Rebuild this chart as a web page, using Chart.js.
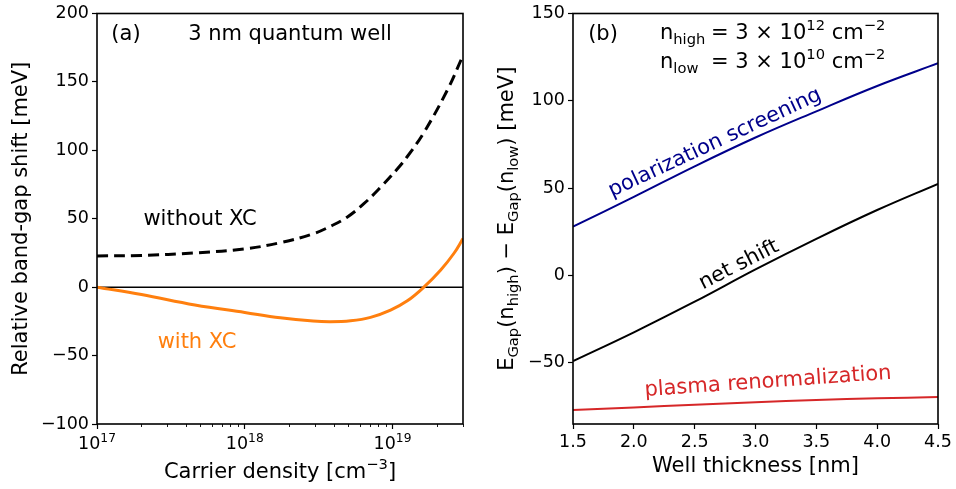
<!DOCTYPE html>
<html>
<head>
<meta charset="utf-8">
<script src="https://cdn.jsdelivr.net/npm/chart.js@4.4.1/dist/chart.umd.min.js"></script>
<style>
  body { margin: 0; background: #fff; width: 956px; height: 489px; overflow: hidden; position: relative; }
  .box { position: absolute; top: 0; height: 489px; }
</style>
</head>
<body>
<div class="box" style="left:0;width:480px"><canvas id="left"></canvas></div>
<div class="box" style="left:480px;width:476px"><canvas id="right"></canvas></div>
<script>
// (a) band-gap shift vs carrier density, 3 nm well
const DENSITY = [1e17, 2e17, 4.6e17, 1e18, 1.74e18, 2.9e18, 3.8e18, 4.9e18, 6.4e18, 8.3e18, 1.07e19, 1.26e19, 1.63e19, 2.35e19, 3e19];
const SHIFT_NO_XC = [22.8, 23.2, 25, 28, 32.5, 39, 44.5, 51, 61, 73, 86, 95.5, 113, 144, 169.3];
const DENSITY_XC = [1e17, 2e17, 4.6e17, 1e18, 1.74e18, 2.9e18, 3.8e18, 5.2e18, 7.1e18, 9.7e18, 1.26e19, 1.63e19, 2.12e19, 2.6e19, 3e19];
const SHIFT_XC = [0, -5.4, -13, -18.5, -22.4, -24.8, -25.3, -24.6, -22.1, -16.8, -10, 0, 12.6, 24.6, 35.5];
const DENSITY_TICKS = [1e17, 1e18, 1e19];
const DENSITY_TICK_EXP = ["17", "18", "19"];
const SHIFT_TICKS = [-100, -50, 0, 50, 100, 150, 200];

// (b) band-gap difference vs well thickness
const THICKNESS = [1.5, 2.0, 2.5, 3.0, 3.5, 4.0, 4.5];
const POLARIZATION = [28, 45, 62.5, 79, 94, 108.5, 121.5];
const NET_SHIFT = [-49, -32.5, -15, 3.5, 21, 37.5, 52.5];
const PLASMA = [-77, -75.5, -74, -72.5, -71.2, -70.3, -69.6];
const THICKNESS_TICKS = [1.5, 2.0, 2.5, 3.0, 3.5, 4.0, 4.5];
const DIFF_TICKS = [-50, 0, 50, 100, 150];

const FONT = "DejaVu Sans";
Chart.defaults.font.family = FONT;
Chart.defaults.color = "#000";

// draws text made of [text, "n" | "sub" | "sup"] pieces
function drawRich(ctx, parts, x, y, size, color, align) {
  const sizeOf = k => (k === "n" ? size : size * 0.7);
  let w = 0;
  for (const [t, k] of parts) {
    ctx.font = `${sizeOf(k)}px "${FONT}"`;
    w += ctx.measureText(t).width;
  }
  let cx = align === "center" ? x - w / 2 : align === "right" ? x - w : x;
  ctx.fillStyle = color;
  ctx.textAlign = "left";
  ctx.textBaseline = "alphabetic";
  for (const [t, k] of parts) {
    ctx.font = `${sizeOf(k)}px "${FONT}"`;
    const dy = k === "sub" ? size * 0.22 : k === "sup" ? -size * 0.42 : 0;
    ctx.fillText(t, cx, y + dy);
    cx += ctx.measureText(t).width;
  }
}

function drawText(ctx, text, x, y, size, color, angle, baseline) {
  ctx.save();
  ctx.translate(x, y);
  ctx.rotate(-(angle || 0) * Math.PI / 180);
  ctx.font = `${size}px "${FONT}"`;
  ctx.fillStyle = color;
  ctx.textAlign = "center";
  ctx.textBaseline = baseline || "alphabetic";
  ctx.fillText(text, 0, 0);
  ctx.restore();
}

function drawFrame(ctx, a) {
  ctx.strokeStyle = "#000";
  ctx.lineWidth = 1.6;
  ctx.strokeRect(a.left, a.top, a.right - a.left, a.bottom - a.top);
}

const minus = v => String(v).replace("-", "\u2212");

const leftDecor = {
  id: "leftDecor",
  afterDraw(chart) {
    const { ctx, chartArea: a, scales: { x } } = chart;
    ctx.save();
    drawFrame(ctx, a);
    // minor log ticks
    ctx.strokeStyle = "#000";
    ctx.lineWidth = 0.9;
    for (let d = 17; d <= 19; d++) {
      for (let k = 2; k <= 9; k++) {
        const v = k * Math.pow(10, d);
        if (v > 3e19) continue;
        const px = Math.round(x.getPixelForValue(v)) + 0.5;
        ctx.beginPath();
        ctx.moveTo(px, a.bottom);
        ctx.lineTo(px, a.bottom + 3);
        ctx.stroke();
      }
    }
    // major tick labels 10^n
    DENSITY_TICKS.forEach((v, i) => {
      drawRich(ctx, [["10", "n"], [DENSITY_TICK_EXP[i], "sup"]], x.getPixelForValue(v), 449, 17.5, "#000", "center");
    });
    // axis titles
    drawRich(ctx, [["Carrier density [cm", "n"], ["\u22123", "sup"], ["]", "n"]], (a.left + a.right) / 2, 478, 21, "#000", "center");
    drawText(ctx, "Relative band-gap shift [meV]", 27, (a.top + a.bottom) / 2, 21, "#000", 90);
    // annotations
    drawText(ctx, "(a)", 126, 40, 21, "#000");
    drawText(ctx, "3 nm quantum well", 290, 40, 21, "#000");
    drawText(ctx, "without XC", 200, 225, 21, "#000");
    drawText(ctx, "with XC", 197, 348, 21, "#ff7f0e");
    ctx.restore();
  }
};

const rightDecor = {
  id: "rightDecor",
  afterDraw(chart) {
    const { ctx, chartArea: a } = chart;
    ctx.save();
    drawFrame(ctx, a);
    drawRich(ctx, [["Well thickness [nm]", "n"]], (a.left + a.right) / 2, 472, 21, "#000", "center");
    // rotated y title with subscripts
    ctx.save();
    ctx.translate(33, (a.top + a.bottom) / 2);
    ctx.rotate(-Math.PI / 2);
    drawRich(ctx, [["E", "n"], ["Gap", "sub"], ["(n", "n"], ["high", "sub"], [") \u2212 E", "n"], ["Gap", "sub"],
      ["(n", "n"], ["low", "sub"], [") [meV]", "n"]], 0, 0, 21, "#000", "center");
    ctx.restore();
    drawText(ctx, "(b)", 123, 40, 21, "#000");
    drawRich(ctx, [["n", "n"], ["high", "sub"]], 180, 39, 21, "#000", "left");
    drawRich(ctx, [["= 3 \u00d7 10", "n"], ["12", "sup"], [" cm", "n"], ["\u22122", "sup"]], 231, 39, 21, "#000", "left");
    drawRich(ctx, [["n", "n"], ["low", "sub"]], 180, 68, 21, "#000", "left");
    drawRich(ctx, [["= 3 \u00d7 10", "n"], ["10", "sup"], [" cm", "n"], ["\u22122", "sup"]], 231, 68, 21, "#000", "left");
    drawText(ctx, "polarization screening", 235, 143, 21, "#00008b", 25, "middle");
    drawText(ctx, "net shift", 259, 265, 21, "#000", 27, "middle");
    drawText(ctx, "plasma renormalization", 288, 382, 21, "#d62728", 4, "middle");
    ctx.restore();
  }
};

const tickGrid = { drawOnChartArea: false, drawTicks: true, tickLength: 5, tickWidth: 1.2, tickColor: "#000" };

function pts(xs, ys) {
  return xs.map((v, i) => ({ x: v, y: ys[i] }));
}

new Chart(document.getElementById("left"), {
  type: "line",
  data: {
    datasets: [
      { data: pts(DENSITY_XC, SHIFT_XC), borderColor: "#ff7f0e", borderWidth: 3, pointRadius: 0, tension: 0.4 },
      { data: pts(DENSITY, SHIFT_NO_XC), borderColor: "#000", borderWidth: 3, borderDash: [11, 6], pointRadius: 0, tension: 0.4 },
      { data: pts([DENSITY[0], DENSITY[DENSITY.length - 1]], [0, 0]), borderColor: "#000", borderWidth: 1.5, pointRadius: 0 }
    ]
  },
  options: {
    responsive: true,
    maintainAspectRatio: false,
    animation: false,
    layout: { padding: { top: 13, right: 17, left: 0, bottom: 0 } },
    plugins: { legend: { display: false }, tooltip: { enabled: false } },
    scales: {
      x: {
        type: "logarithmic", min: 1e17, max: 3e19,
        grid: tickGrid, border: { display: false },
        ticks: { display: false },
        afterBuildTicks: s => { s.ticks = DENSITY_TICKS.map(v => ({ value: v })); },
        afterFit: s => { s.height = 65; }
      },
      y: {
        min: -100, max: 200,
        grid: tickGrid, border: { display: false },
        ticks: { font: { size: 17.5 }, padding: 3, callback: v => minus(v) },
        afterBuildTicks: s => { s.ticks = SHIFT_TICKS.map(v => ({ value: v })); },
        afterFit: s => { s.width = 97; }
      }
    }
  },
  plugins: [leftDecor]
});

new Chart(document.getElementById("right"), {
  type: "line",
  data: {
    datasets: [
      { data: pts(THICKNESS, POLARIZATION), borderColor: "#00008b", borderWidth: 2, pointRadius: 0, tension: 0.4 },
      { data: pts(THICKNESS, NET_SHIFT), borderColor: "#000", borderWidth: 2, pointRadius: 0, tension: 0.4 },
      { data: pts(THICKNESS, PLASMA), borderColor: "#d62728", borderWidth: 2, pointRadius: 0, tension: 0.4 }
    ]
  },
  options: {
    responsive: true,
    maintainAspectRatio: false,
    animation: false,
    layout: { padding: { top: 13, right: 18, left: 0, bottom: 0 } },
    plugins: { legend: { display: false }, tooltip: { enabled: false } },
    scales: {
      x: {
        type: "linear", min: 1.5, max: 4.5,
        grid: tickGrid, border: { display: false },
        ticks: { font: { size: 17.5 }, padding: 3, maxRotation: 0, callback: v => v.toFixed(1) },
        afterBuildTicks: s => { s.ticks = THICKNESS_TICKS.map(v => ({ value: v })); },
        afterFit: s => { s.height = 65; }
      },
      y: {
        min: -85, max: 150,
        grid: tickGrid, border: { display: false },
        ticks: { font: { size: 17.5 }, padding: 3, callback: v => minus(v) },
        afterBuildTicks: s => { s.ticks = DIFF_TICKS.map(v => ({ value: v })); },
        afterFit: s => { s.width = 93; }
      }
    }
  },
  plugins: [rightDecor]
});
</script>
</body>
</html>
